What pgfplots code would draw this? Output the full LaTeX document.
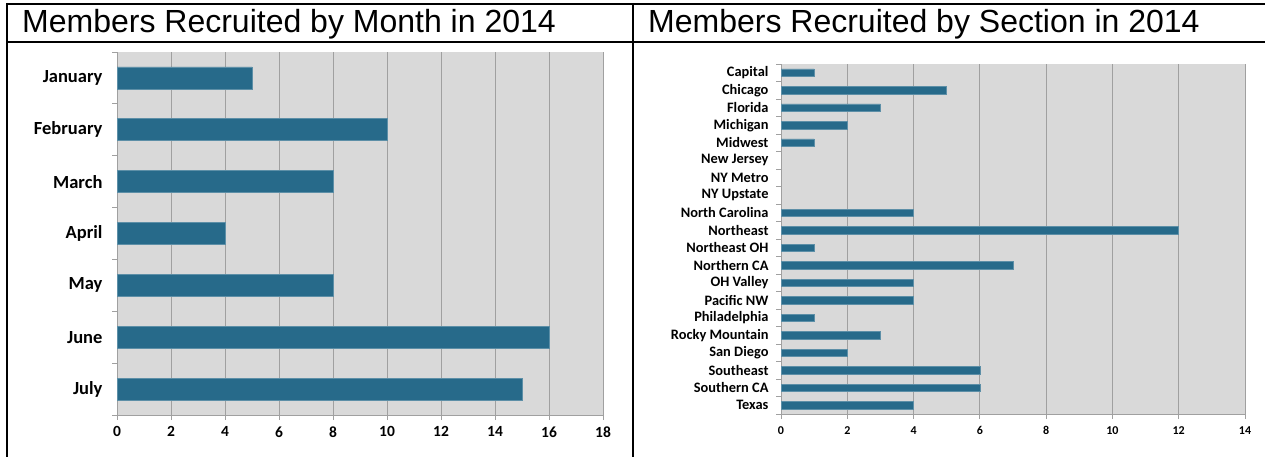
\documentclass[border=0pt]{standalone}
\usepackage{fontspec}
\setmainfont{Liberation Sans}
\newfontfamily\calib{Carlito}
\usepackage{pgfplots}
\pgfplotsset{compat=1.18}
\definecolor{barblue}{RGB}{39,106,138}
\definecolor{bggray}{RGB}{217,217,217}
\definecolor{gridgray}{RGB}{160,160,160}
\pgfplotsset{
  mystyle/.style={
    scale only axis, xbar, xmin=0,
    axis background/.style={fill=bggray},
    axis lines=left, axis line style={-, gridgray, line width=0.8pt},
    xmajorgrids, grid style={gridgray, line width=0.8pt},
    major tick length=0pt, minor tick length=5pt, tick align=outside,
    minor tick style={gridgray, line width=0.8pt},
    /pgf/number format/assume math mode=true,
    clip=false,
  }
}
\begin{document}
\begin{tikzpicture}
\path[use as bounding box] (0,0) rectangle (1265pt,-457pt);
% table lines
\draw[line width=2pt] (7pt,-3pt) -- (7pt,-457pt);
\draw[line width=2pt] (633pt,-3pt) -- (633pt,-457pt);
\draw[line width=2pt] (6pt,-4pt) -- (1265pt,-4pt);
\draw[line width=2pt] (6pt,-42pt) -- (1265pt,-42pt);
\node[anchor=base west, inner sep=0pt, font=\fontsize{32}{32}\selectfont] at (22pt,-33pt) {Members Recruited by Month in 2014};
\node[anchor=base west, inner sep=0pt, font=\fontsize{32}{32}\selectfont] at (648pt,-33pt) {Members Recruited by Section in 2014};

\begin{axis}[mystyle,
  at={(117pt,-415pt)}, anchor=south west,
  width=486pt, height=363pt,
  xmax=18, ymin=-0.5, ymax=6.5,
  bar width=22pt,
  xtick={0,2,...,18}, minor xtick={0,2,...,18},
  ytick={0,...,6},
  yticklabels={July,June,May,April,March,February,January},
  minor ytick={-0.5,0.5,...,6.5},
  yticklabel style={font=\calib\bfseries\fontsize{18.5}{18.5}\selectfont, xshift=-11pt},
  xticklabel style={font=\calib\bfseries\fontsize{15.5}{15.5}\selectfont, yshift=-8pt},
]
\addplot[fill=barblue, draw=barblue!75!white, line width=0.6pt]
  coordinates {(15,0) (16,1) (8,2) (4,3) (8,4) (10,5) (5,6)};
\end{axis}

\begin{axis}[mystyle,
  at={(781pt,-414pt)}, anchor=south west,
  width=464pt, height=350pt,
  xmax=14, ymin=-0.5, ymax=19.5,
  bar width=7.5pt,
  xtick={0,2,...,14}, minor xtick={0,2,...,14},
  ytick={0,...,19},
  yticklabels={Texas,Southern CA,Southeast,San Diego,Rocky Mountain,Philadelphia,Pacific NW,OH Valley,Northern CA,Northeast OH,Northeast,North Carolina,NY Upstate,NY Metro,New Jersey,Midwest,Michigan,Florida,Chicago,Capital},
  minor ytick={-0.5,0.5,...,19.5},
  yticklabel style={font=\calib\bfseries\fontsize{14.4}{14.4}\selectfont, xshift=-9pt},
  xticklabel style={font=\calib\bfseries\fontsize{12}{12}\selectfont, yshift=-9pt},
]
\addplot[fill=barblue, draw=barblue!75!white, line width=0.6pt]
  coordinates {(4,0) (6,1) (6,2) (2,3) (3,4) (1,5) (4,6) (4,7) (7,8) (1,9) (12,10) (4,11) (1,15) (2,16) (3,17) (5,18) (1,19)};
\end{axis}
\end{tikzpicture}
\end{document}
